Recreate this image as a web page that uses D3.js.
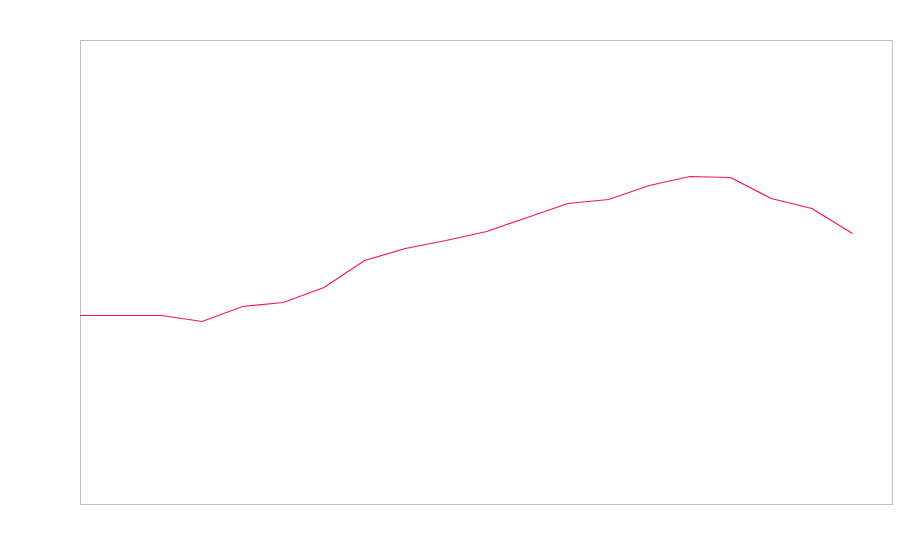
<!DOCTYPE html>
<html>
<head>
<meta charset="utf-8">
<script src="https://cdn.jsdelivr.net/npm/d3@7"></script>
<style>
  body { margin: 0; background: #fff; }
</style>
</head>
<body>
<div id="chart"></div>
<script>
var svgWidth = 900;
var svgHeight = 560;

var margin = { top: 40, right: 8, bottom: 56, left: 80 };
var width = svgWidth - margin.left - margin.right;
var height = svgHeight - margin.top - margin.bottom;

// data
var steps = d3.range(20);
var values = [40.7, 40.7, 40.7, 39.4, 42.7, 43.5, 46.7, 52.6, 55.2, 57.0,
              58.9, 61.9, 64.8, 65.7, 68.8, 70.7, 70.4, 65.9, 63.7, 58.5];

var svg = d3.select("#chart")
  .append("svg")
  .attr("width", svgWidth)
  .attr("height", svgHeight);

var chartGroup = svg.append("g")
  .attr("transform", `translate(${margin.left}, ${margin.top})`);

var xScale = d3.scaleLinear().domain([0, 19.97]).range([0, width]);
var yScale = d3.scaleLinear().domain([0, 100]).range([height, 0]);

// frame
chartGroup.append("rect")
  .attr("x", 0.5)
  .attr("y", 0.5)
  .attr("width", width)
  .attr("height", height)
  .attr("fill", "none")
  .attr("stroke", "#c0c0c0")
  .attr("stroke-width", 1);

var line = d3.line()
  .x((d, i) => xScale(steps[i]))
  .y(d => Math.round(yScale(d)) + 0.5);

chartGroup.append("path")
  .datum(values)
  .attr("d", line)
  .attr("fill", "none")
  .attr("stroke", "#f2165c")
  .attr("stroke-width", 1.2);
</script>
</body>
</html>
